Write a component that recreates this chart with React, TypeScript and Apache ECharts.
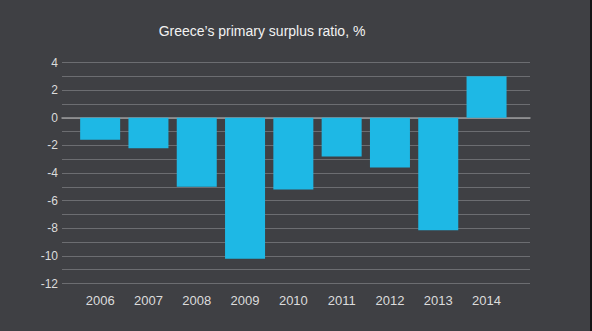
import React, { useEffect, useRef } from "react";
import * as echarts from "echarts";

const title = "Greece’s primary surplus ratio, %";
const categories = ["2006", "2007", "2008", "2009", "2010", "2011", "2012", "2013", "2014"];
const surplus = [-1.6, -2.2, -5.0, -10.2, -5.2, -2.8, -3.6, -8.15, 3.0];
const yMin = -12;
const yMax = 4;
const yStep = 2;

const FONT = '"Liberation Sans", Arial, Helvetica, sans-serif';

export default function App() {
  const ref = useRef<HTMLDivElement>(null);
  useEffect(() => {
    if (!ref.current) return;
    const chart = echarts.init(ref.current, undefined, { renderer: "svg" });
    const top = 62.5;
    const bottom = 331 - 283.5;
    chart.setOption({
      animation: false,
      backgroundColor: "#3f4044",
      textStyle: { fontFamily: FONT },
      graphic: [
        {
          type: "text",
          x: 262,
          y: 31,
          style: {
            text: title,
            align: "center",
            verticalAlign: "middle",
            fontSize: 14,
            fontFamily: FONT,
            fill: "#f2f2f2",
          },
        },
        {
          type: "rect",
          shape: { x: 590, y: 0, width: 2, height: 331 },
          style: { fill: "#151517" },
          silent: true,
        },
      ],
      grid: [
        { left: 62, right: 62, top, bottom, containLabel: false },
        { left: 76, right: 592 - 76 - 434.7, top, bottom, containLabel: false },
      ],
      xAxis: [
        {
          gridIndex: 0,
          type: "value",
          min: 0,
          max: 1,
          axisLabel: { show: false },
          axisTick: { show: false },
          splitLine: { show: false },
          axisLine: { show: true, onZero: true, lineStyle: { color: "#9a9a9c", width: 1.5 } },
        },
        {
          gridIndex: 1,
          type: "category",
          data: categories,
          axisLine: { show: false },
          axisTick: { show: false },
          axisLabel: { color: "#dcdcdc", fontSize: 13, margin: 10, fontFamily: FONT },
        },
      ],
      yAxis: [
        {
          gridIndex: 0,
          type: "value",
          min: yMin,
          max: yMax,
          interval: yStep,
          axisLine: { show: false },
          axisTick: { show: false },
          axisLabel: { color: "#dcdcdc", fontSize: 12, margin: 4, fontFamily: FONT },
          splitLine: { show: true, lineStyle: { color: "#6c6d71", width: 1 } },
          minorTick: { show: false, splitNumber: 2 },
          minorSplitLine: { show: true, lineStyle: { color: "#6c6d71", width: 1 } },
        },
        {
          gridIndex: 1,
          type: "value",
          min: yMin,
          max: yMax,
          interval: yStep,
          show: false,
          splitLine: { show: false },
        },
      ],
      series: [
        {
          type: "bar",
          xAxisIndex: 1,
          yAxisIndex: 1,
          data: surplus,
          barWidth: 40,
          itemStyle: { color: "#1eb8e5" },
          z: 3,
        },
      ],
    });
    return () => chart.dispose();
  }, []);
  return (
    <div
      ref={ref}
      style={{ position: "fixed", left: 0, top: 0, width: 592, height: 331 }}
    />
  );
}
